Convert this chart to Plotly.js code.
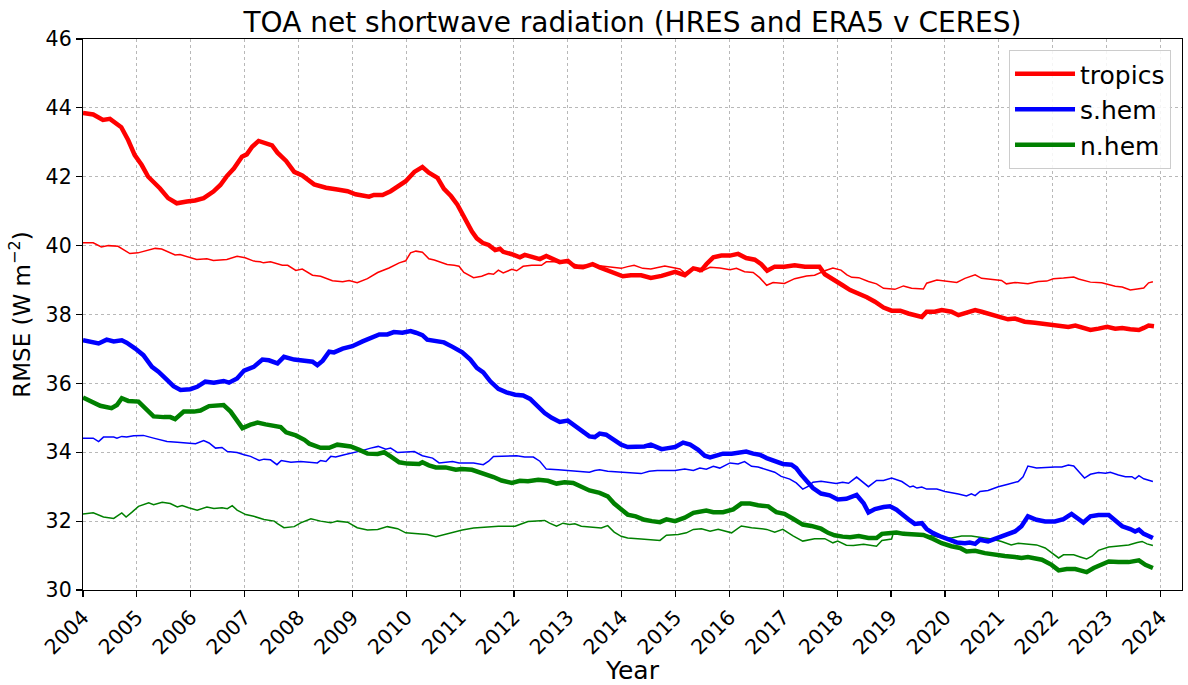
<!DOCTYPE html>
<html><head><meta charset="utf-8">
<script src="https://cdn.plot.ly/plotly-3.0.1.min.js"></script>
<style>html,body{margin:0;padding:0;background:#fff}#chart{width:1188px;height:685px}</style>
</head><body><div id="chart"></div>
<script>
const seriesNames = ['tropics', 's.hem', 'n.hem'];
const seriesColors = ['#ff0000', '#0000ff', '#008000'];
const yearTicks = [2004,2005,2006,2007,2008,2009,2010,2011,2012,2013,2014,2015,2016,2017,2018,2019,2020,2021,2022,2023,2024];
const rmseTicks = [30,32,34,36,38,40,42,44,46];

// [year, RMSE] — thick lines
const tropicsThick = [[2004.00,43.85],[2004.19,43.81],[2004.37,43.65],[2004.50,43.68],[2004.71,43.44],[2004.84,43.06],[2004.96,42.63],[2005.09,42.34],[2005.21,42.00],[2005.43,41.66],[2005.58,41.38],[2005.74,41.23],[2005.93,41.28],[2006.08,41.31],[2006.24,41.38],[2006.42,41.57],[2006.55,41.76],[2006.67,42.02],[2006.80,42.24],[2006.95,42.58],[2007.04,42.65],[2007.14,42.87],[2007.26,43.04],[2007.39,42.98],[2007.51,42.91],[2007.61,42.70],[2007.77,42.46],[2007.92,42.14],[2008.07,42.04],[2008.29,41.78],[2008.51,41.68],[2008.72,41.63],[2008.91,41.58],[2009.06,41.49],[2009.31,41.42],[2009.40,41.47],[2009.56,41.47],[2009.71,41.58],[2009.87,41.75],[2009.99,41.87],[2010.15,42.14],[2010.30,42.28],[2010.42,42.12],[2010.58,41.97],[2010.70,41.65],[2010.83,41.44],[2010.95,41.19],[2011.04,40.92],[2011.13,40.70],[2011.22,40.41],[2011.31,40.21],[2011.43,40.07],[2011.53,40.02],[2011.65,39.87],[2011.74,39.91],[2011.80,39.82],[2011.96,39.75],[2012.11,39.66],[2012.20,39.73],[2012.33,39.66],[2012.48,39.61],[2012.60,39.70],[2012.73,39.61],[2012.85,39.52],[2013.00,39.56],[2013.13,39.39],[2013.28,39.37],[2013.46,39.46],[2013.59,39.37],[2013.74,39.27],[2013.90,39.17],[2014.02,39.11],[2014.17,39.14],[2014.36,39.14],[2014.54,39.06],[2014.74,39.12],[2014.99,39.24],[2015.17,39.14],[2015.33,39.34],[2015.48,39.29],[2015.57,39.46],[2015.70,39.66],[2015.85,39.71],[2016.01,39.71],[2016.16,39.76],[2016.31,39.64],[2016.47,39.59],[2016.59,39.46],[2016.70,39.27],[2016.84,39.39],[2017.02,39.39],[2017.21,39.43],[2017.40,39.39],[2017.67,39.39],[2017.77,39.17],[2017.92,39.04],[2018.10,38.85],[2018.24,38.71],[2018.40,38.61],[2018.55,38.50],[2018.70,38.37],[2018.86,38.20],[2019.01,38.11],[2019.17,38.11],[2019.32,38.03],[2019.57,37.93],[2019.66,38.08],[2019.81,38.08],[2019.94,38.13],[2020.12,38.08],[2020.25,37.98],[2020.40,38.05],[2020.56,38.13],[2020.68,38.08],[2020.83,38.01],[2021.02,37.91],[2021.17,37.86],[2021.30,37.88],[2021.48,37.79],[2021.67,37.76],[2021.86,37.73],[2022.01,37.71],[2022.20,37.68],[2022.29,37.64],[2022.42,37.68],[2022.51,37.64],[2022.70,37.55],[2022.85,37.59],[2023.01,37.64],[2023.16,37.59],[2023.29,37.61],[2023.44,37.57],[2023.60,37.55],[2023.69,37.61],[2023.78,37.68],[2023.88,37.66]];

const shemThick = [[2004.00,37.25],[2004.13,37.22],[2004.29,37.16],[2004.44,37.27],[2004.57,37.22],[2004.72,37.25],[2004.81,37.18],[2004.97,37.01],[2005.12,36.82],[2005.28,36.48],[2005.40,36.34],[2005.56,36.10],[2005.68,35.92],[2005.81,35.81],[2005.99,35.83],[2006.12,35.90],[2006.27,36.05],[2006.43,36.02],[2006.61,36.07],[2006.71,36.02],[2006.86,36.14],[2006.99,36.37],[2007.17,36.48],[2007.33,36.69],[2007.45,36.67],[2007.61,36.58],[2007.73,36.77],[2007.92,36.69],[2008.11,36.66],[2008.26,36.63],[2008.35,36.53],[2008.45,36.66],[2008.57,36.92],[2008.66,36.90],[2008.82,37.01],[2009.00,37.08],[2009.19,37.22],[2009.34,37.33],[2009.50,37.42],[2009.65,37.42],[2009.77,37.49],[2009.93,37.47],[2010.08,37.52],[2010.18,37.47],[2010.30,37.40],[2010.39,37.27],[2010.55,37.22],[2010.70,37.19],[2010.86,37.06],[2011.04,36.90],[2011.19,36.69],[2011.31,36.45],[2011.43,36.32],[2011.56,36.06],[2011.71,35.84],[2011.86,35.74],[2012.02,35.67],[2012.17,35.65],[2012.30,35.55],[2012.42,35.35],[2012.57,35.14],[2012.70,35.00],[2012.85,34.88],[2013.00,34.92],[2013.13,34.77],[2013.25,34.61],[2013.40,34.46],[2013.50,34.44],[2013.59,34.54],[2013.71,34.51],[2013.86,34.37],[2013.99,34.22],[2014.11,34.15],[2014.26,34.15],[2014.42,34.17],[2014.54,34.22],[2014.74,34.09],[2014.86,34.12],[2014.99,34.15],[2015.14,34.28],[2015.27,34.22],[2015.42,34.07],[2015.54,33.90],[2015.64,33.85],[2015.76,33.90],[2015.88,33.96],[2016.04,33.96],[2016.19,33.98],[2016.31,34.02],[2016.44,33.96],[2016.56,33.93],[2016.69,33.83],[2016.84,33.75],[2016.99,33.66],[2017.15,33.64],[2017.24,33.54],[2017.33,33.35],[2017.43,33.16],[2017.55,32.96],[2017.70,32.80],[2017.86,32.75],[2018.01,32.63],[2018.17,32.65],[2018.36,32.76],[2018.49,32.52],[2018.58,32.25],[2018.70,32.35],[2018.86,32.41],[2018.98,32.43],[2019.10,32.33],[2019.23,32.15],[2019.35,32.02],[2019.44,31.92],[2019.57,31.94],[2019.66,31.77],[2019.78,31.65],[2019.91,31.56],[2020.06,31.48],[2020.22,31.38],[2020.37,31.36],[2020.46,31.38],[2020.56,31.34],[2020.65,31.46],[2020.80,31.41],[2020.93,31.48],[2021.11,31.60],[2021.30,31.70],[2021.42,31.85],[2021.54,32.14],[2021.70,32.04],[2021.86,31.99],[2022.04,31.99],[2022.20,32.06],[2022.35,32.21],[2022.45,32.09],[2022.57,31.96],[2022.70,32.14],[2022.85,32.18],[2023.04,32.18],[2023.16,32.04],[2023.29,31.85],[2023.44,31.77],[2023.53,31.70],[2023.60,31.75],[2023.69,31.63],[2023.78,31.57],[2023.86,31.51]];

const nhemThick = [[2004.00,35.59],[2004.13,35.49],[2004.32,35.35],[2004.53,35.28],[2004.63,35.37],[2004.72,35.57],[2004.84,35.49],[2005.03,35.47],[2005.16,35.28],[2005.31,35.04],[2005.50,35.02],[2005.62,35.02],[2005.71,34.96],[2005.87,35.18],[2006.06,35.18],[2006.18,35.21],[2006.34,35.34],[2006.49,35.37],[2006.61,35.37],[2006.74,35.18],[2006.86,34.89],[2006.96,34.70],[2007.11,34.80],[2007.24,34.86],[2007.39,34.81],[2007.55,34.75],[2007.67,34.73],[2007.77,34.58],[2007.95,34.49],[2008.11,34.36],[2008.20,34.25],[2008.41,34.13],[2008.57,34.13],[2008.72,34.22],[2008.97,34.17],[2009.13,34.07],[2009.28,33.96],[2009.47,33.95],[2009.59,34.00],[2009.71,33.88],[2009.87,33.71],[2010.02,33.67],[2010.24,33.66],[2010.30,33.71],[2010.42,33.62],[2010.55,33.56],[2010.73,33.56],[2010.92,33.49],[2011.03,33.51],[2011.22,33.49],[2011.40,33.40],[2011.62,33.28],[2011.77,33.18],[2011.96,33.11],[2012.11,33.17],[2012.26,33.16],[2012.45,33.20],[2012.63,33.17],[2012.79,33.09],[2012.94,33.13],[2013.10,33.11],[2013.22,33.01],[2013.40,32.89],[2013.59,32.82],[2013.74,32.72],[2013.86,32.51],[2013.99,32.33],[2014.11,32.19],[2014.26,32.14],[2014.42,32.04],[2014.56,32.00],[2014.71,31.97],[2014.83,32.05],[2014.99,32.00],[2015.17,32.10],[2015.33,32.24],[2015.57,32.31],[2015.70,32.26],[2015.88,32.26],[2016.07,32.34],[2016.22,32.51],[2016.38,32.51],[2016.53,32.46],[2016.72,32.43],[2016.87,32.26],[2017.02,32.21],[2017.18,32.07],[2017.36,31.90],[2017.52,31.86],[2017.70,31.78],[2017.83,31.66],[2017.95,31.59],[2018.10,31.55],[2018.24,31.53],[2018.40,31.57],[2018.58,31.51],[2018.73,31.51],[2018.83,31.63],[2018.95,31.65],[2019.10,31.67],[2019.23,31.63],[2019.41,31.63],[2019.60,31.60],[2019.78,31.48],[2019.94,31.36],[2020.12,31.27],[2020.28,31.22],[2020.40,31.12],[2020.56,31.14],[2020.74,31.07],[2020.93,31.02],[2021.11,30.99],[2021.30,30.96],[2021.42,30.93],[2021.54,30.96],[2021.70,30.90],[2021.80,30.88],[2021.98,30.73],[2022.11,30.57],[2022.26,30.61],[2022.42,30.61],[2022.51,30.57],[2022.63,30.52],[2022.76,30.64],[2022.91,30.73],[2023.04,30.83],[2023.22,30.81],[2023.41,30.81],[2023.60,30.86],[2023.72,30.73],[2023.86,30.64]];

// [year, RMSE] — thin lines
const tropicsThin = [[2004.00,40.08],[2004.19,40.08],[2004.34,39.96],[2004.47,40.00],[2004.65,39.98],[2004.87,39.77],[2005.02,39.79],[2005.18,39.86],[2005.34,39.92],[2005.46,39.90],[2005.71,39.73],[2005.80,39.74],[2005.96,39.67],[2006.11,39.60],[2006.30,39.62],[2006.42,39.57],[2006.67,39.60],[2006.86,39.69],[2007.01,39.65],[2007.17,39.55],[2007.29,39.53],[2007.35,39.50],[2007.48,39.53],[2007.70,39.43],[2007.80,39.43],[2007.95,39.28],[2008.07,39.32],[2008.26,39.14],[2008.41,39.11],[2008.63,38.98],[2008.82,38.95],[2008.94,38.99],[2009.09,38.92],[2009.28,39.04],[2009.47,39.22],[2009.68,39.35],[2009.87,39.50],[2009.99,39.56],[2010.08,39.79],[2010.18,39.84],[2010.30,39.81],[2010.42,39.62],[2010.52,39.58],[2010.64,39.52],[2010.76,39.45],[2010.89,39.43],[2010.98,39.40],[2011.07,39.22],[2011.13,39.17],[2011.25,39.07],[2011.40,39.11],[2011.53,39.19],[2011.62,39.17],[2011.71,39.29],[2011.80,39.21],[2011.96,39.31],[2012.05,39.27],[2012.17,39.40],[2012.33,39.43],[2012.51,39.43],[2012.60,39.53],[2012.76,39.53],[2013.00,39.50],[2013.19,39.43],[2013.50,39.43],[2013.74,39.39],[2013.99,39.34],[2014.11,39.39],[2014.23,39.43],[2014.39,39.34],[2014.54,39.32],[2014.80,39.41],[2014.96,39.37],[2015.08,39.32],[2015.17,39.20],[2015.33,39.34],[2015.45,39.24],[2015.64,39.37],[2015.82,39.35],[2016.01,39.30],[2016.13,39.34],[2016.28,39.24],[2016.44,39.22],[2016.56,39.07],[2016.69,38.85],[2016.81,38.93],[2017.02,38.90],[2017.21,39.04],[2017.43,39.12],[2017.58,39.14],[2017.77,39.27],[2017.92,39.35],[2018.07,39.29],[2018.18,39.15],[2018.27,39.08],[2018.40,39.07],[2018.58,38.96],[2018.73,38.89],[2018.86,38.76],[2019.01,38.73],[2019.07,38.73],[2019.23,38.83],[2019.38,38.76],[2019.60,38.74],[2019.66,38.91],[2019.85,39.00],[2020.00,38.98],[2020.22,38.93],[2020.37,39.05],[2020.56,39.15],[2020.68,39.05],[2020.83,39.02],[2021.05,38.99],[2021.14,38.89],[2021.30,38.93],[2021.54,38.89],[2021.73,38.96],[2021.89,38.97],[2022.01,39.04],[2022.20,39.06],[2022.39,39.09],[2022.48,39.03],[2022.60,38.99],[2022.70,38.94],[2022.91,38.92],[2023.04,38.87],[2023.16,38.82],[2023.29,38.80],[2023.44,38.71],[2023.57,38.74],[2023.69,38.77],[2023.78,38.92],[2023.86,38.95]];

const shemThin = [[2004.00,34.41],[2004.19,34.41],[2004.29,34.31],[2004.38,34.44],[2004.57,34.44],[2004.63,34.41],[2004.72,34.46],[2004.81,34.44],[2004.94,34.48],[2005.12,34.49],[2005.31,34.41],[2005.56,34.31],[2005.75,34.29],[2005.93,34.27],[2006.09,34.25],[2006.24,34.34],[2006.34,34.27],[2006.46,34.12],[2006.58,34.14],[2006.68,34.02],[2006.86,33.99],[2006.99,33.93],[2007.11,33.88],[2007.27,33.76],[2007.36,33.80],[2007.48,33.78],[2007.60,33.64],[2007.68,33.76],[2007.86,33.71],[2008.04,33.73],[2008.26,33.71],[2008.35,33.69],[2008.41,33.76],[2008.51,33.73],[2008.60,33.88],[2008.69,33.86],[2008.85,33.93],[2009.00,33.98],[2009.16,34.04],[2009.34,34.12],[2009.48,34.17],[2009.62,34.09],[2009.71,34.12],[2009.84,33.99],[2010.02,34.02],[2010.15,34.02],[2010.30,33.90],[2010.49,33.83],[2010.61,33.69],[2010.76,33.72],[2010.86,33.73],[2010.98,33.69],[2011.25,33.69],[2011.43,33.64],[2011.53,33.74],[2011.62,33.88],[2011.83,33.90],[2012.05,33.90],[2012.20,33.86],[2012.36,33.86],[2012.48,33.74],[2012.60,33.51],[2012.82,33.49],[2013.00,33.47],[2013.25,33.45],[2013.40,33.42],[2013.50,33.47],[2013.59,33.49],[2013.74,33.45],[2013.99,33.42],[2014.17,33.42],[2014.36,33.38],[2014.51,33.45],[2014.66,33.47],[2014.83,33.47],[2014.99,33.47],[2015.17,33.51],[2015.33,33.47],[2015.45,33.54],[2015.57,33.51],[2015.70,33.59],[2015.82,33.54],[2016.01,33.69],[2016.16,33.66],[2016.28,33.73],[2016.41,33.59],[2016.53,33.57],[2016.69,33.49],[2016.84,33.42],[2016.96,33.30],[2017.12,33.22],[2017.24,33.11],[2017.36,32.93],[2017.46,33.01],[2017.55,33.13],[2017.70,33.16],[2017.83,33.13],[2017.98,33.09],[2018.10,33.13],[2018.21,33.10],[2018.36,33.28],[2018.58,33.00],[2018.73,33.18],[2018.86,33.18],[2019.01,33.25],[2019.20,33.15],[2019.35,32.99],[2019.41,33.02],[2019.48,32.96],[2019.57,32.99],[2019.66,32.93],[2019.85,32.93],[2020.00,32.86],[2020.15,32.83],[2020.25,32.79],[2020.40,32.73],[2020.49,32.79],[2020.56,32.74],[2020.65,32.86],[2020.80,32.89],[2020.99,33.00],[2021.17,33.07],[2021.36,33.15],[2021.45,33.29],[2021.54,33.60],[2021.70,33.54],[2021.86,33.56],[2022.04,33.57],[2022.17,33.57],[2022.29,33.63],[2022.39,33.60],[2022.48,33.44],[2022.59,33.25],[2022.70,33.36],[2022.85,33.41],[2022.98,33.39],[2023.07,33.42],[2023.22,33.34],[2023.35,33.29],[2023.47,33.29],[2023.53,33.23],[2023.60,33.32],[2023.69,33.23],[2023.86,33.15]];

const nhemThin = [[2004.00,32.21],[2004.19,32.24],[2004.38,32.12],[2004.57,32.08],[2004.72,32.24],[2004.80,32.12],[2004.91,32.26],[2005.03,32.43],[2005.22,32.53],[2005.31,32.48],[2005.47,32.55],[2005.62,32.51],[2005.75,32.41],[2005.84,32.45],[2005.96,32.39],[2006.12,32.32],[2006.30,32.41],[2006.43,32.37],[2006.58,32.39],[2006.68,32.36],[2006.77,32.45],[2006.86,32.32],[2007.02,32.19],[2007.17,32.14],[2007.36,32.05],[2007.55,32.00],[2007.61,31.93],[2007.73,31.81],[2007.92,31.84],[2008.04,31.95],[2008.23,32.07],[2008.41,32.00],[2008.60,31.95],[2008.72,32.00],[2008.91,31.97],[2009.09,31.81],[2009.28,31.74],[2009.47,31.76],[2009.65,31.84],[2009.84,31.78],[2009.99,31.66],[2010.21,31.64],[2010.39,31.61],[2010.55,31.55],[2010.70,31.61],[2010.89,31.68],[2011.04,31.74],[2011.25,31.80],[2011.46,31.83],[2011.71,31.85],[2012.02,31.85],[2012.14,31.92],[2012.26,31.99],[2012.57,32.02],[2012.66,31.94],[2012.79,31.85],[2012.91,31.94],[2013.03,31.90],[2013.13,31.92],[2013.25,31.85],[2013.40,31.83],[2013.62,31.80],[2013.74,31.87],[2013.86,31.68],[2013.99,31.56],[2014.11,31.51],[2014.36,31.48],[2014.54,31.46],[2014.71,31.44],[2014.83,31.59],[2015.05,31.61],[2015.20,31.66],[2015.33,31.76],[2015.48,31.78],[2015.64,31.71],[2015.79,31.76],[2016.04,31.66],[2016.22,31.86],[2016.41,31.81],[2016.69,31.76],[2016.84,31.68],[2016.99,31.76],[2017.18,31.57],[2017.36,31.42],[2017.58,31.49],[2017.77,31.49],[2017.92,31.37],[2018.01,31.42],[2018.17,31.30],[2018.30,31.29],[2018.49,31.33],[2018.73,31.27],[2018.83,31.44],[2019.01,31.48],[2019.04,31.65],[2019.23,31.67],[2019.41,31.63],[2019.60,31.60],[2019.78,31.57],[2019.97,31.51],[2020.12,31.51],[2020.31,31.57],[2020.49,31.57],[2020.68,31.53],[2020.86,31.48],[2021.05,31.41],[2021.23,31.31],[2021.36,31.36],[2021.51,31.33],[2021.70,31.31],[2021.86,31.22],[2021.98,31.07],[2022.11,30.93],[2022.20,31.02],[2022.39,31.02],[2022.51,30.96],[2022.63,30.90],[2022.73,30.98],[2022.85,31.15],[2023.04,31.25],[2023.22,31.27],[2023.41,31.31],[2023.57,31.38],[2023.66,31.41],[2023.75,31.34],[2023.86,31.29]];

const thickSeries = [tropicsThick, shemThick, nhemThick];
const thinSeries = [tropicsThin, shemThin, nhemThin];

const traces = [];
thinSeries.forEach((s, i) => {
  traces.push({
    x: s.map(p => p[0]), y: s.map(p => p[1]),
    type: 'scatter', mode: 'lines', name: seriesNames[i] + ' (thin)',
    showlegend: false, hoverinfo: 'skip',
    line: {color: seriesColors[i], width: 1.5}
  });
});
thickSeries.forEach((s, i) => {
  traces.push({
    x: s.map(p => p[0]), y: s.map(p => p[1]),
    type: 'scatter', mode: 'lines', name: seriesNames[i],
    line: {color: seriesColors[i], width: 4.5}
  });
});

const axisCommon = {
  showline: true, linecolor: 'black', linewidth: 1.2, mirror: true,
  ticks: 'outside', ticklen: 6, tickwidth: 1.2, tickcolor: 'black',
  showgrid: true, gridcolor: '#b8b8b8', griddash: 'dot', gridwidth: 1,
  zeroline: false, tickfont: {size: 20.5, color: 'black'}
};

const layout = {
  width: 1188, height: 685,
  margin: {l: 83, r: 6, t: 39, b: 95},
  paper_bgcolor: 'white', plot_bgcolor: 'white',
  font: {family: 'DejaVu Sans, sans-serif', color: 'black'},
  title: {text: 'TOA net shortwave radiation (HRES and ERA5 v CERES)', font: {size: 28, color: 'black'},
          x: 0.5, xref: 'paper', y: 0.968, yref: 'container', yanchor: 'middle'},
  xaxis: Object.assign({}, axisCommon, {
    range: [2004, 2024.4], tickvals: yearTicks, ticktext: yearTicks.map(String), tickangle: -45,
    title: {text: 'Year', font: {size: 25, color: 'black'}, standoff: 2}
  }),
  yaxis: Object.assign({}, axisCommon, {
    range: [30, 46], tickvals: rmseTicks, ticktext: rmseTicks.map(String),
    title: {text: 'RMSE (W m<sup>−2</sup>)', font: {size: 23, color: 'black'}, standoff: 8}
  }),
  legend: {x: 0.99, xanchor: 'right', y: 0.98, yanchor: 'top', bordercolor: '#cccccc', borderwidth: 1,
           bgcolor: 'rgba(255,255,255,0.85)', font: {size: 25, color: 'black'}, itemwidth: 60,
           tracegroupgap: 4}
};

Plotly.newPlot('chart', traces, layout, {displayModeBar: false, staticPlot: true});
</script>
</body></html>
